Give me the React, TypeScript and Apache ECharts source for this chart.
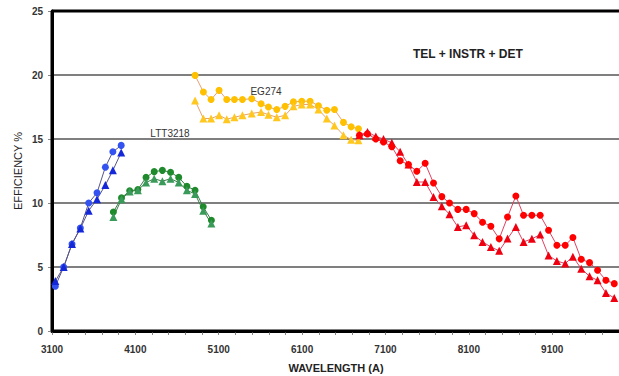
import React, { useEffect, useRef } from "react";
import * as echarts from "echarts";

// ---- data (wavelength in Å, efficiency in %) ----
const blueX = [3140, 3240, 3340, 3440, 3540, 3640, 3740, 3830, 3930];
const blueCircle = [3.5, 5.0, 6.8, 8.05, 10.0, 10.8, 12.8, 14.0, 14.5];
const blueTriangle = [3.9, 5.0, 6.8, 8.0, 9.4, 10.3, 11.4, 12.55, 13.95];

const greenX = [3836, 3934, 4032, 4130, 4228, 4326, 4424, 4522, 4620, 4718, 4816, 4914, 5012];
const greenCircle = [9.3, 10.4, 10.95, 11.05, 12.0, 12.45, 12.55, 12.4, 12.0, 11.3, 11.0, 9.7, 8.65];
const greenTriangle = [8.9, 10.3, 10.9, 11.0, 11.6, 11.9, 11.7, 11.9, 11.6, 11.0, 10.7, 9.4, 8.4];

const yellowX = [4816, 4916, 5008, 5104, 5196, 5288, 5384, 5496, 5608, 5696, 5796, 5896, 5996, 6096, 6196, 6296, 6396, 6488, 6596, 6688, 6776];
const yellowCircle = [19.97, 18.67, 18.08, 18.8, 18.08, 18.08, 18.08, 18.15, 17.76, 17.5, 17.3, 17.55, 17.9, 17.95, 17.95, 17.6, 17.25, 17.3, 16.3, 15.95, 15.8];
const yellowTriangle = [18.0, 16.6, 16.6, 16.85, 16.55, 16.7, 16.85, 17.0, 17.1, 16.9, 16.7, 16.85, 17.55, 17.7, 17.7, 17.3, 16.6, 16.05, 15.3, 14.95, 14.9];

const redX = [6788, 6884, 6984, 7076, 7176, 7276, 7376, 7476, 7576, 7676, 7776, 7868, 7968, 8068, 8164, 8264, 8364, 8464, 8564, 8664, 8756, 8856, 8956, 9056, 9156, 9256, 9348, 9448, 9548, 9644, 9744, 9844];
const redCircle = [15.3, 15.4, 15.0, 14.77, 14.4, 13.3, 13.0, 12.48, 13.1, 11.56, 10.5, 10.0, 9.5, 9.5, 9.17, 8.5, 8.18, 7.2, 8.9, 10.55, 9.04, 9.04, 9.04, 7.87, 6.7, 6.7, 7.3, 5.6, 5.34, 4.74, 3.96, 3.7];
const redTriangle = [15.3, 15.55, 15.2, 15.0, 14.7, 14.0, 13.0, 11.64, 11.64, 10.47, 9.74, 9.12, 8.13, 8.26, 7.48, 6.96, 6.57, 6.26, 7.22, 8.13, 6.96, 7.2, 7.53, 5.9, 5.47, 5.27, 5.8, 4.87, 4.27, 3.96, 2.97, 2.58];

const xMin = 3100;
const xMax = 9925;
const xLabelStep = 1000;
const xTickStep = 200;
const yMin = 0;
const yMax = 25;
const yStep = 5;

const chartTitle = "TEL + INSTR + DET";
const xName = "WAVELENGTH (A)";
const yName = "EFFICIENCY %";
const labelEG = "EG274";
const labelLTT = "LTT3218";

function zip(xs: number[], ys: number[]) {
  return xs.map((x, i) => [x, ys[i]]);
}

function mk(
  name: string,
  xs: number[],
  ys: number[],
  symbol: string,
  size: number,
  color: string,
  lineColor: string
) {
  return {
    name,
    type: "line",
    data: zip(xs, ys),
    symbol,
    symbolSize: size,
    itemStyle: { color },
    lineStyle: { color: lineColor, width: 1 },
  };
}

export default function App() {
  const ref = useRef<HTMLDivElement>(null);

  useEffect(() => {
    document.body.style.margin = "0";
    if (!ref.current) return;
    const chart = echarts.init(ref.current, undefined, { renderer: "svg" });
    chart.setOption({
      animation: false,
      backgroundColor: "#ffffff",
      grid: { left: 52, right: -2, top: 11, bottom: 45, outerBoundsMode: "none" },
      xAxis: {
        type: "value",
        min: xMin,
        max: xMax,
        interval: xTickStep,
        axisLine: { show: true, onZero: false, lineStyle: { color: "#000000", width: 3 } },
        axisTick: { show: true, length: 4, lineStyle: { color: "#888888", width: 1 } },
        axisLabel: {
          fontSize: 10,
          fontWeight: "bold",
          color: "#333333",
          margin: 13,
          formatter: (v: number) =>
            Math.round(v - xMin) % xLabelStep === 0 && v < xMax ? String(Math.round(v)) : "",
        },
        splitLine: { show: false },
      },
      yAxis: {
        type: "value",
        min: yMin,
        max: yMax,
        interval: yStep,
        axisLine: { show: true, onZero: false, lineStyle: { color: "#000000", width: 3 } },
        axisTick: { show: true, length: 4, lineStyle: { color: "#888888", width: 1 } },
        axisLabel: { fontSize: 10, fontWeight: "bold", color: "#333333", margin: 9 },
        splitLine: { show: true, lineStyle: { color: "#555555", width: 1.5 } },
      },
      graphic: [
        {
          type: "text",
          x: 413,
          y: 48,
          style: { text: chartTitle, fontSize: 12, fontWeight: "bold", fill: "#222222" },
        },
        {
          type: "text",
          x: 266,
          y: 91,
          style: { text: labelEG, fontSize: 10, fill: "#333333", align: "center", verticalAlign: "middle" },
        },
        {
          type: "text",
          x: 170,
          y: 133,
          style: { text: labelLTT, fontSize: 10, fill: "#333333", align: "center", verticalAlign: "middle" },
        },
        {
          type: "text",
          x: 336,
          y: 368,
          style: { text: xName, fontSize: 11, fontWeight: "bold", fill: "#222222", align: "center", verticalAlign: "middle" },
        },
        {
          type: "text",
          x: 18,
          y: 171,
          rotation: Math.PI / 2,
          style: { text: yName, fontSize: 11, fill: "#222222", align: "center", verticalAlign: "middle" },
        },
      ],
      series: [
        mk("LTT3218 blue circle", blueX, blueCircle, "circle", 7, "#3352f0", "#55558a"),
        mk("LTT3218 blue triangle", blueX, blueTriangle, "triangle", 8, "#1428d8", "#55558a"),
        mk("LTT3218 green circle", greenX, greenCircle, "circle", 7, "#1e8a2c", "#3c7a4a"),
        mk("LTT3218 green triangle", greenX, greenTriangle, "triangle", 8, "#3a9a5a", "#3c7a4a"),
        mk("EG274 circle", yellowX, yellowCircle, "circle", 7, "#ffc000", "#e8a070"),
        mk("EG274 triangle", yellowX, yellowTriangle, "triangle", 8, "#ffc820", "#e8a070"),
        mk("red triangle", redX, redTriangle, "triangle", 8, "#ee0010", "#e04060"),
        mk("red circle", redX, redCircle, "circle", 7, "#ff0000", "#e04060"),
        {
          name: "frame",
          type: "line",
          data: [
            [xMax, yMax],
            [xMin, yMax],
            [xMin, yMin],
            [xMax, yMin],
          ],
          symbol: "none",
          clip: false,
          lineStyle: { color: "#000000", width: 3 },
        },
      ],
    });
    return () => {
      chart.dispose();
    };
  }, []);

  return <div ref={ref} style={{ width: 619, height: 376 }} />;
}
